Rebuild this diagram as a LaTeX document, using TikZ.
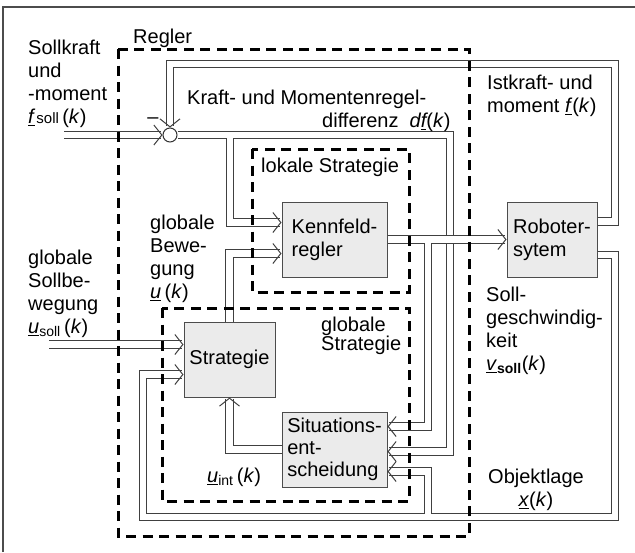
\documentclass[tikz,border=0pt]{standalone}
\usepackage{fontspec}
\setmainfont{Liberation Sans}
\usetikzlibrary{arrows.meta}
\tikzset{
  block/.style={draw=black!70,fill=black!8,line width=1pt,minimum width=105pt,minimum height=75pt,align=left,inner sep=0pt},
  sig/.style={draw=black!75,line width=0.9pt,double=white,double distance=6.5pt},
  tip/.tip={Straight Barb[length=8pt,width=20pt,line width=1pt]},
  grenze/.style={line width=3pt,dash pattern=on 10pt off 6.5pt},
  lbl/.style={anchor=north west,align=left},
}
\begin{document}
\begin{tikzpicture}[x=1pt,y=-1pt,font=\fontsize{20}{23}\selectfont,inner sep=0pt]
\useasboundingbox(0,0)rectangle(635,552);
%frame
\draw[black!70,line width=1.3pt](3,552)--(3,7)--(635,7);
%blocks
\node[block](kennfeld)at(334.5,239.5){Kennfeld-\\regler};
\node[block,minimum width=90pt](roboter)at(552,239.5){Roboter-\\sytem};
\node[block,minimum width=91pt](strategie)at(229.5,359.5){Strategie};
\node[block,font=\fontsize{20}{22}\selectfont](situation)at(334.5,449.5){Situations-\\ent-\\scheidung};
\node[circle,draw=black!80,line width=1pt,minimum size=14pt](summe)at(170,135){};
\coordinate(fsoll)at(64,135);
\coordinate(usoll)at(49,344.5);
%signals
\draw[sig,-tip](fsoll)--(summe.west);
\draw[sig,-tip]([yshift=18pt]roboter.east)-|(615,64)-|(summe.north);
\draw[sig,tip-tip](summe.east)--(230,135)
  ([yshift=17pt]kennfeld.west)-|(230,135)--(450,135)|-([yshift=-2pt]situation.east);
\draw[sig,tip-tip](kennfeld.east)--(428,239.5)
  (roboter.west)-|(428,239.5)|-([yshift=23pt]situation.east);
\draw[sig,-tip](usoll)--(usoll-|strategie.west);
\draw[sig,-tip](strategie.north)|-([yshift=-14pt]kennfeld.west);
\draw[sig,-tip](situation.west)-|(strategie.south);
\draw[sig,tip-tip]([yshift=-15.5pt]roboter.east)-|(615,517)--(428,517)
  ([yshift=-22pt]situation.east)-|(428,517)-|(143,374.5)--([yshift=-15pt]strategie.west);
%dashed boundaries
\draw[grenze](118,49)rectangle(469,536);
\draw[grenze](252,149)rectangle(409,292);
\draw[grenze](162,308)rectangle(409,501);
%labels
\node[lbl]at(133,29){Regler};
\node[lbl]at(28,40){Sollkraft\\und\\-moment\\\underline{\textit{f}}\kern1pt{\fontsize{15}{15}\selectfont soll}\,(\textit{k})};
\node at(153,121){--};
\node[lbl]at(187,90){Kraft- und Momentenregel-\\\hspace*{135pt}differenz\ \ \textit{d\underline{f}}(\textit{k})};
\node[lbl]at(487,75){Istkraft- und\\moment \underline{\textit{f}}(\textit{k})};
\node[lbl]at(261,158){lokale Strategie};
\node[lbl]at(150,215){globale\\Bewe-\\gung\\\underline{\textit{u}}\,(\textit{k})};
\node[lbl]at(28,250){globale\\Sollbe-\\wegung\\\underline{\textit{u}}\textsubscript{soll}\,(\textit{k})};
\node[lbl,font=\fontsize{20}{19}\selectfont]at(321,317){globale\\Strategie};
\node[lbl]at(207,468){\underline{\textit{u}}\textsubscript{int}\,(\textit{k})};
\node[lbl]at(486,287){Soll-\\geschwindig-\\keit\\\underline{\textit{v}}\textsubscript{\textbf{soll}}(\textit{k})};
\node[lbl,align=center]at(488,469){Objektlage\\\underline{\textit{x}}(\textit{k})};
\end{tikzpicture}
\end{document}
